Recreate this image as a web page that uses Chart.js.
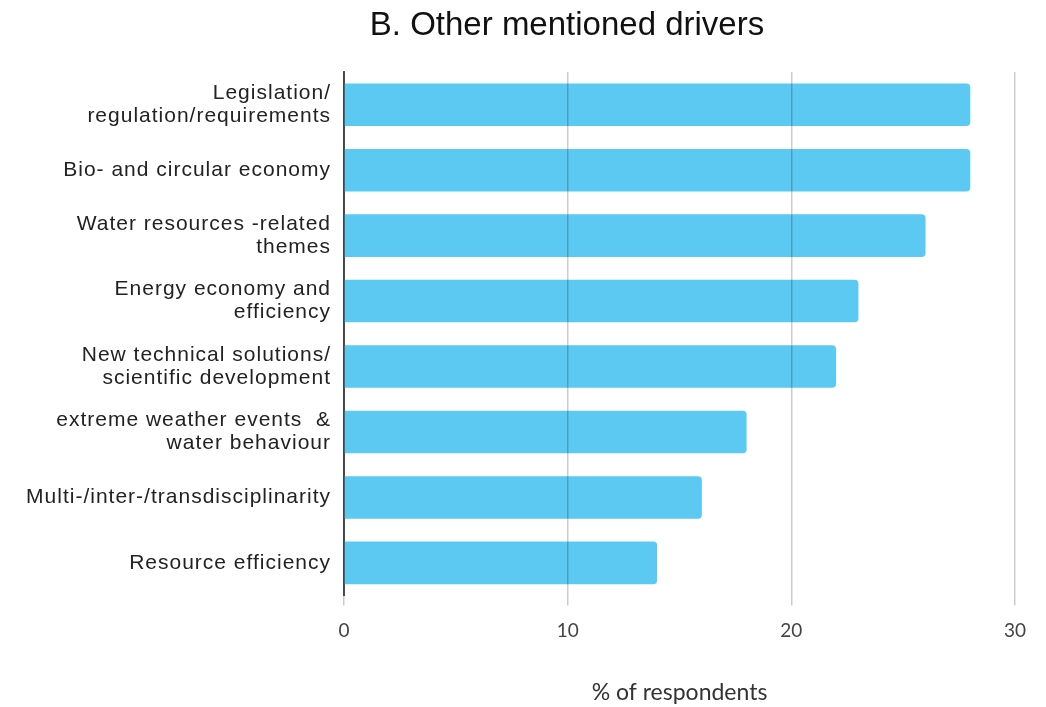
<!DOCTYPE html>
<html>
<head>
<meta charset="utf-8">
<script src="https://cdn.jsdelivr.net/npm/chart.js@4.4.1/dist/chart.umd.min.js"></script>
<style>
  html, body { margin: 0; padding: 0; background: #fff; }
  #wrap { width: 1046px; height: 707px; }
</style>
</head>
<body>
<div id="wrap"><canvas id="driversChart" width="1046" height="707"></canvas></div>
<script>
const chartTitle = "B. Other mentioned drivers"
const axisTitle = "% of respondents"

const drivers = [
  ["Legislation/", "regulation/requirements"],
  "Bio- and circular economy",
  ["Water resources -related", "themes"],
  ["Energy economy and", "efficiency"],
  ["New technical solutions/", "scientific development"],
  ["extreme weather events  &", "water behaviour"],
  "Multi-/inter-/transdisciplinarity",
  "Resource efficiency"
]
const respondents = [28, 28, 26, 23, 22, 18, 16, 14]
const xTicks = [0, 10, 20, 30]

// title sits a bit right of the canvas centre
const titlePlugin = {
  id: "offsetTitle",
  afterDraw(chart) {
    const ctx = chart.ctx
    ctx.save()
    ctx.font = "33px 'Liberation Sans', Arial, sans-serif"
    ctx.fillStyle = "#111"
    ctx.textAlign = "center"
    ctx.textBaseline = "middle"
    ctx.fillText(chartTitle, 567, 26)
    ctx.restore()
  }
}

// category labels are drawn slightly letter-spaced
const spacedLabels = {
  id: "spacedLabels",
  afterLayout(chart) {
    const y = chart.scales.y
    if (y._spaced) return
    const base = y.drawLabels
    y.drawLabels = function (area) {
      chart.ctx.save()
      chart.ctx.letterSpacing = "1px"
      base.call(this, area)
      chart.ctx.restore()
    }
    y._spaced = true
  }
}

const ctx = document.getElementById("driversChart").getContext("2d")

new Chart(ctx, {
  type: "bar",
  data: {
    labels: drivers,
    datasets: [{
      label: axisTitle,
      data: respondents,
      backgroundColor: "#5bc9f1",
      borderRadius: 4,
      borderSkipped: "start",
      barPercentage: 0.65,
      categoryPercentage: 1
    }]
  },
  options: {
    indexAxis: "y",
    responsive: false,
    animation: false,
    layout: {
      padding: { top: 72, right: 31, bottom: 0, left: 0 }
    },
    plugins: {
      legend: { display: false },
      tooltip: { enabled: false }
    },
    scales: {
      x: {
        min: 0,
        max: 30,
        afterBuildTicks: axis => { axis.ticks = xTicks.map(v => ({ value: v })) },
        grid: {
          color: "rgba(0,0,0,0.2)",
          lineWidth: 1.5,
          z: 1,
          drawTicks: true,
          tickLength: 10
        },
        border: { display: false },
        ticks: {
          color: "#444",
          padding: 14,
          font: { family: "Lato, 'Open Sans', sans-serif", size: 19 }
        },
        title: {
          display: true,
          text: axisTitle,
          color: "#333",
          padding: { top: 22, bottom: 1 },
          font: { family: "Lato, 'Open Sans', sans-serif", size: 23 }
        }
      },
      y: {
        afterFit: axis => { axis.width = 344 },
        grid: { display: false, drawTicks: false },
        border: { display: true, color: "#555", width: 2 },
        ticks: {
          color: "#222",
          padding: 13,
          autoSkip: false,
          font: { family: "'Liberation Sans', Arial, sans-serif", size: 21, lineHeight: 1.1 }
        }
      }
    }
  },
  plugins: [titlePlugin, spacedLabels]
})
</script>
</body>
</html>
